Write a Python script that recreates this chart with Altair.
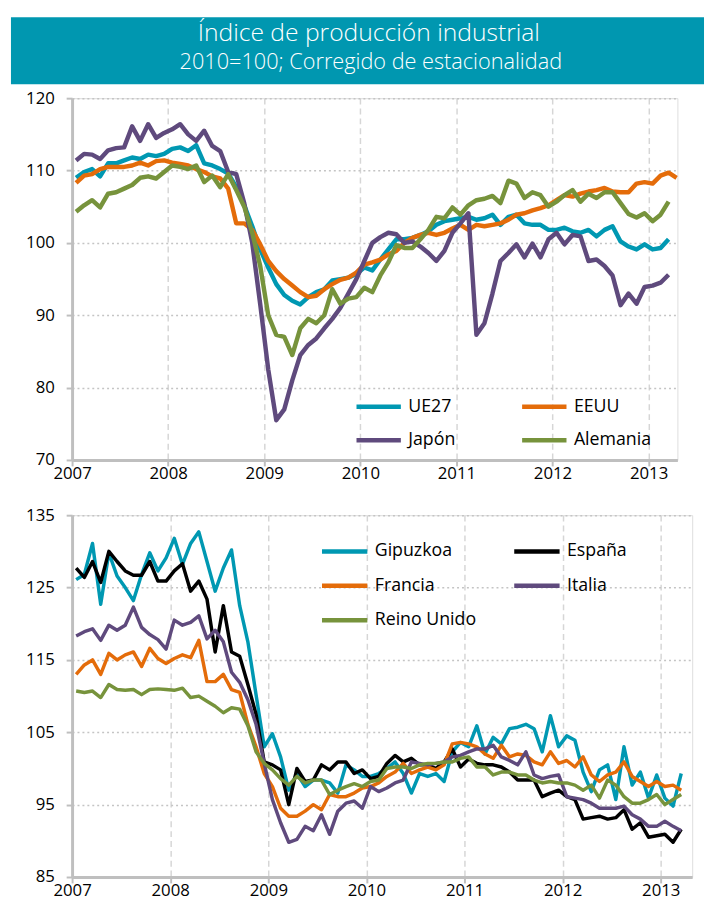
import altair as alt
import pandas as pd

FONT = "Open Sans"

# ---------------- data ----------------
years = [2007, 2008, 2009, 2010, 2011, 2012, 2013]
top_ticks = [70, 80, 90, 100, 110, 120]
bottom_ticks = [85, 95, 105, 115, 125, 135]

title_line1 = "Índice de producción industrial"
title_line2 = "2010=100; Corregido de estacionalidad"

top_names = ["UE27", "EEUU", "Japón", "Alemania"]
top_colors = ["#0098B2", "#E46C0A", "#5F4A7D", "#77933C"]

ue27 = [109.0, 109.8, 110.2, 109.2, 111.0, 111.0, 111.4, 111.8, 111.6, 112.2, 112.0, 112.3,
        113.0, 113.2, 112.7, 113.5, 111.0, 110.7, 110.2, 109.6, 107.7, 105.2, 102.3, 99.1,
        96.6, 94.3, 92.8, 92.0, 91.5, 92.5, 93.2, 93.6, 94.8, 95.0, 95.2, 95.7,
        96.6, 96.2, 97.7, 99.1, 100.5, 100.5, 100.7, 101.1, 101.6, 102.5, 103.0, 103.2,
        103.4, 103.6, 103.2, 103.4, 103.9, 102.5, 103.6, 103.9, 102.7, 102.5, 102.5, 101.8,
        101.8, 102.1, 101.6, 101.4, 101.8, 100.9, 101.8, 102.3, 100.2, 99.5, 99.1, 99.8,
        99.1, 99.3, 100.5]
eeuu = [108.3, 109.3, 109.5, 110.2, 110.5, 110.5, 110.5, 110.7, 111.1, 110.7, 111.3, 111.4,
        111.1, 110.9, 110.7, 110.2, 109.8, 109.2, 108.9, 107.5, 102.7, 102.7, 101.8, 99.8,
        97.5, 96.1, 95.0, 94.1, 93.2, 92.5, 92.7, 93.6, 94.3, 94.9, 95.2, 95.9,
        97.0, 97.3, 97.7, 98.4, 98.9, 100.0, 100.7, 101.1, 101.4, 101.1, 101.4, 102.0,
        102.5, 101.8, 102.5, 102.3, 102.5, 102.7, 103.2, 103.9, 104.1, 104.5, 104.8, 105.2,
        105.9, 106.6, 106.4, 106.8, 107.1, 107.3, 107.6, 107.1, 107.0, 107.0, 108.2, 108.4,
        108.2, 109.3, 109.7, 109.0]
japon = [111.4, 112.3, 112.2, 111.6, 112.8, 113.1, 113.2, 116.1, 114.1, 116.4, 114.5, 115.2,
         115.7, 116.4, 115.0, 114.1, 115.5, 113.4, 112.7, 109.8, 109.5, 105.5, 100.0, 91.5,
         82.5, 75.5, 77.0, 81.0, 84.5, 85.9, 86.8, 88.2, 89.5, 91.0, 93.0, 95.0,
         97.5, 100.0, 100.8, 101.4, 101.2, 100.0, 100.2, 99.5, 98.6, 97.5, 98.9, 101.4,
         102.7, 104.1, 87.3, 88.9, 93.0, 97.5, 98.6, 99.8, 98.0, 99.9, 98.0, 100.5,
         101.4, 99.8, 101.1, 100.9, 97.5, 97.7, 96.8, 95.5, 91.4, 93.0, 91.6, 93.9,
         94.1, 94.5, 95.6]
alemania = [104.3, 105.2, 105.9, 104.9, 106.8, 107.0, 107.5, 108.0, 109.0, 109.2, 108.9, 109.8,
            110.7, 110.5, 110.2, 110.7, 108.4, 109.3, 107.7, 109.5, 107.3, 105.0, 101.4, 96.8,
            90.0, 87.3, 87.0, 84.5, 88.2, 89.5, 88.9, 90.0, 93.6, 91.6, 92.3, 92.5,
            93.8, 93.2, 95.5, 97.3, 99.7, 99.3, 99.3, 100.5, 101.8, 103.6, 103.4, 104.9,
            103.9, 105.2, 105.9, 106.1, 106.5, 105.5, 108.6, 108.2, 106.2, 107.0, 106.6, 105.0,
            105.7, 106.6, 107.3, 105.7, 106.8, 106.2, 107.0, 107.0, 105.5, 104.0, 103.5, 104.1,
            103.0, 103.9, 105.7]

bottom_names = ["Gipuzkoa", "España", "Francia", "Italia", "Reino Unido"]
bottom_colors = ["#0098B2", "#000000", "#E46C0A", "#5F4A7D", "#77933C"]

gipuzkoa = [126.1, 126.8, 131.1, 122.7, 129.8, 126.6, 125.0, 123.2, 126.8, 129.8, 127.3, 129.1,
            131.8, 128.2, 131.1, 132.7, 128.6, 124.5, 127.7, 130.2, 122.5, 117.5, 110.2, 103.0,
            104.8, 101.6, 97.0, 99.3, 97.5, 98.4, 98.4, 98.0, 96.6, 100.5, 99.8, 98.9,
            98.9, 99.3, 100.0, 100.9, 99.3, 96.6, 99.3, 98.9, 99.3, 98.2, 102.3, 103.6,
            103.0, 105.9, 102.0, 104.3, 103.4, 105.5, 105.7, 106.1, 105.5, 102.3, 107.3, 103.0,
            104.5, 103.9, 99.5, 96.8, 99.8, 100.5, 95.7, 103.0, 97.7, 99.5, 95.9, 99.1,
            95.9, 94.8, 99.3]
espana = [127.7, 126.4, 128.6, 125.7, 130.0, 128.6, 127.3, 126.7, 126.7, 128.6, 125.9, 125.9,
          127.3, 128.3, 124.5, 125.9, 123.4, 116.1, 122.5, 116.1, 115.5, 111.6, 107.5, 100.9,
          100.5, 99.8, 95.0, 100.0, 98.2, 98.4, 100.5, 99.8, 100.9, 100.9, 99.3, 99.8,
          98.6, 98.9, 100.7, 101.8, 100.9, 101.4, 100.5, 100.5, 100.0, 100.9, 102.7, 100.2,
          101.3, 100.7, 100.5, 100.5, 100.2, 99.5, 98.4, 98.4, 98.4, 96.1, 96.6, 97.0,
          96.1, 95.7, 93.0, 93.2, 93.4, 93.0, 93.2, 94.3, 91.6, 92.5, 90.5, 90.7,
          90.9, 89.8, 91.6]
francia = [113.0, 114.3, 115.0, 113.0, 115.9, 115.0, 115.7, 116.1, 114.1, 116.6, 115.2, 114.5,
           115.2, 115.7, 115.3, 117.7, 112.0, 112.0, 113.0, 110.9, 110.5, 106.1, 103.0, 99.3,
           97.5, 94.5, 93.4, 93.4, 94.1, 95.0, 94.3, 96.4, 96.1, 96.1, 96.6, 97.3,
           97.5, 98.0, 98.9, 99.5, 100.7, 99.3, 99.8, 100.2, 99.8, 100.5, 103.4, 103.6,
           103.4, 103.0, 102.0, 101.4, 103.2, 101.6, 102.0, 101.8, 100.9, 100.5, 102.3, 100.7,
           101.1, 100.2, 101.6, 99.1, 98.2, 99.1, 99.5, 100.9, 98.9, 98.2, 97.5, 98.2,
           97.5, 97.7, 97.0]
italia = [118.3, 118.9, 119.3, 117.7, 119.8, 119.1, 119.8, 122.3, 119.5, 118.5, 117.8, 116.5,
          120.5, 119.8, 120.2, 121.1, 117.9, 119.1, 117.5, 113.3, 111.9, 109.5, 106.1, 100.7,
          95.7, 92.5, 89.8, 90.2, 92.0, 91.4, 93.6, 90.9, 94.1, 95.2, 95.5, 94.5,
          97.5, 96.8, 97.3, 98.0, 98.4, 100.9, 100.7, 100.5, 100.7, 100.9, 101.6, 101.8,
          102.3, 102.7, 102.7, 103.2, 101.6, 101.1, 100.5, 102.3, 99.1, 98.6, 98.9, 99.1,
          96.1, 95.9, 95.7, 95.2, 94.5, 94.5, 94.5, 94.8, 93.6, 93.0, 92.0, 92.0,
          92.7, 92.0, 91.4]
reino_unido = [110.7, 110.5, 110.7, 109.8, 111.6, 110.9, 110.8, 110.9, 110.2, 110.9, 111.0, 110.9,
               110.8, 111.1, 109.8, 110.0, 109.3, 108.6, 107.7, 108.4, 108.2, 105.9, 102.3, 100.7,
               99.8, 98.6, 97.7, 98.9, 98.0, 98.4, 98.4, 96.4, 97.0, 97.5, 97.9, 97.5,
               98.2, 98.4, 100.0, 100.2, 100.2, 100.0, 100.5, 100.7, 100.7, 100.9, 100.9, 101.4,
               101.6, 100.2, 100.2, 99.1, 99.5, 99.5, 99.1, 99.1, 98.4, 98.0, 98.2, 98.0,
               98.0, 97.7, 97.0, 97.7, 95.9, 98.4, 97.7, 96.1, 95.2, 95.2, 95.7, 96.4,
               95.0, 95.7, 96.4]


def long_df(names, series):
    rows = []
    for name, vals in zip(names, series):
        for i, v in enumerate(vals):
            rows.append({"fecha": 2007 + (i + 0.5) / 12, "valor": v, "serie": name, "orden": i})
    return pd.DataFrame(rows)


top_df = long_df(top_names, [ue27, eeuu, japon, alemania])
bottom_df = long_df(bottom_names, [gipuzkoa, espana, francia, italia, reino_unido])

GRID_X = "#D6D6D6"
GRID_Y = "#C4C4C4"
AXIS_C = "#BFBFBF"


def x_axis():
    return alt.Axis(values=years, format="d", title=None, grid=True, gridDash=[6, 4],
                    gridColor=GRID_X, gridWidth=1.5, domainColor=AXIS_C, domainWidth=3,
                    tickColor=AXIS_C, tickWidth=2, tickSize=6, labelFontSize=17,
                    labelColor="#000000", labelFont=FONT, labelPadding=0,
                    labelFlush=False, labelOverlap=False)


def y_axis(vals):
    return alt.Axis(values=vals, title=None, grid=True, gridDash=[2, 3],
                    gridColor=GRID_Y, gridWidth=1.5, domainColor=AXIS_C, domainWidth=3,
                    tickColor=AXIS_C, tickWidth=2, tickSize=6, labelFontSize=17,
                    labelColor="#000000", labelFont=FONT, labelPadding=12)


# ---------------- top panel ----------------
top_lines = alt.Chart(top_df).mark_line(strokeWidth=4.5, strokeJoin="round").encode(
    x=alt.X("fecha:Q", scale=alt.Scale(domain=[2007, 2013.3], nice=False, zero=False), axis=x_axis()),
    y=alt.Y("valor:Q", scale=alt.Scale(domain=[70, 120], nice=False, zero=False), axis=y_axis(top_ticks)),
    color=alt.Color("serie:N", sort=top_names,
                    scale=alt.Scale(domain=top_names, range=top_colors),
                    legend=alt.Legend(title=None, orient="none", legendX=286, legendY=288,
                                      direction="horizontal", columns=2,
                                      symbolType="stroke", symbolSize=2025,
                                      symbolStrokeWidth=4.5, labelFontSize=18, labelFont=FONT,
                                      labelColor="#000000", labelOffset=5, columnPadding=58,
                                      rowPadding=-4, padding=0)),
    order=alt.Order("orden:Q"),
)

band_df = pd.DataFrame({"t1": [title_line1], "t2": [title_line2]})
band = alt.Chart(band_df).mark_rect(color="#0097B0").encode(
    x=alt.value(-62), x2=alt.value(641), y=alt.value(-82), y2=alt.value(-14))
t1 = alt.Chart(band_df).mark_text(font=FONT, fontSize=25, fontWeight=300, color="white",
                                  align="center", baseline="middle").encode(
    x=alt.value(301), y=alt.value(-66), text="t1:N")
t2 = alt.Chart(band_df).mark_text(font=FONT, fontSize=22, fontWeight=300, color="white",
                                  align="center", baseline="middle").encode(
    x=alt.value(303), y=alt.value(-37), text="t2:N")

top = alt.layer(band, t1, t2, top_lines).properties(width=614, height=367)

# ---------------- bottom panel ----------------
bottom = alt.Chart(bottom_df).mark_line(strokeWidth=3.5, strokeJoin="round").encode(
    x=alt.X("fecha:Q", scale=alt.Scale(domain=[2007, 2013.32], nice=False, zero=False), axis=x_axis()),
    y=alt.Y("valor:Q", scale=alt.Scale(domain=[85, 135], nice=False, zero=False), axis=y_axis(bottom_ticks)),
    color=alt.Color("serie:N", sort=bottom_names,
                    scale=alt.Scale(domain=bottom_names, range=bottom_colors),
                    legend=alt.Legend(title=None, orient="none", legendX=251, legendY=11,
                                      direction="horizontal", columns=2,
                                      symbolType="stroke", symbolSize=2116,
                                      symbolStrokeWidth=4.5, labelFontSize=18, labelFont=FONT,
                                      labelColor="#000000", labelOffset=5, columnPadding=29,
                                      rowPadding=-7, padding=0)),
    order=alt.Order("orden:Q"),
).properties(width=629, height=367)

chart = alt.vconcat(top, bottom, spacing=23).resolve_scale(color="independent").properties(
    padding={"left": 2, "top": 2, "right": 0, "bottom": 4}
).configure_view(stroke=AXIS_C, strokeWidth=2).configure(background="white")

chart.save("out.html", embed_options={"renderer": "svg", "actions": False})
